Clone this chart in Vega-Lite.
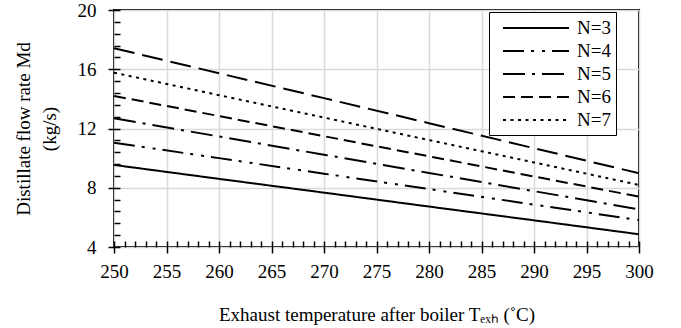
{
  "$schema": "https://vega.github.io/schema/vega-lite/v6.json",
  "width": 525,
  "height": 237,
  "autosize": "none",
  "padding": {"left": 114, "top": 10, "right": 42, "bottom": 81},
  "background": "white",
  "config": {
    "font": "Liberation Serif",
    "view": {"stroke": "black", "strokeWidth": 2},
    "axis": {"labelFont": "Liberation Serif", "titleFont": "Liberation Serif", "labelColor": "black", "titleColor": "black", "titleFontWeight": "normal", "labelFontSize": 19, "titleFontSize": 19, "domainColor": "black", "tickColor": "black", "gridColor": "#d9d9d9", "gridWidth": 1.5, "labelFlush": false, "labelOverlap": false}
  },
  "data": {"values": [
    {"T": 250, "M": 9.54, "N": "N=3"}, {"T": 260, "M": 8.60, "N": "N=3"}, {"T": 270, "M": 7.67, "N": "N=3"}, {"T": 280, "M": 6.73, "N": "N=3"}, {"T": 290, "M": 5.80, "N": "N=3"}, {"T": 300, "M": 4.86, "N": "N=3"},
    {"T": 250, "M": 11.04, "N": "N=4"}, {"T": 260, "M": 10.00, "N": "N=4"}, {"T": 270, "M": 8.95, "N": "N=4"}, {"T": 280, "M": 7.91, "N": "N=4"}, {"T": 290, "M": 6.86, "N": "N=4"}, {"T": 300, "M": 5.82, "N": "N=4"},
    {"T": 250, "M": 12.69, "N": "N=5"}, {"T": 260, "M": 11.46, "N": "N=5"}, {"T": 270, "M": 10.23, "N": "N=5"}, {"T": 280, "M": 9.00, "N": "N=5"}, {"T": 290, "M": 7.77, "N": "N=5"}, {"T": 300, "M": 6.54, "N": "N=5"},
    {"T": 250, "M": 14.20, "N": "N=6"}, {"T": 260, "M": 12.84, "N": "N=6"}, {"T": 270, "M": 11.48, "N": "N=6"}, {"T": 280, "M": 10.12, "N": "N=6"}, {"T": 290, "M": 8.76, "N": "N=6"}, {"T": 300, "M": 7.40, "N": "N=6"},
    {"T": 250, "M": 15.77, "N": "N=7"}, {"T": 260, "M": 14.25, "N": "N=7"}, {"T": 270, "M": 12.74, "N": "N=7"}, {"T": 280, "M": 11.22, "N": "N=7"}, {"T": 290, "M": 9.71, "N": "N=7"}, {"T": 300, "M": 8.19, "N": "N=7"},
    {"T": 250, "M": 17.42, "N": "N=8"}, {"T": 260, "M": 15.73, "N": "N=8"}, {"T": 270, "M": 14.05, "N": "N=8"}, {"T": 280, "M": 12.36, "N": "N=8"}, {"T": 290, "M": 10.67, "N": "N=8"}, {"T": 300, "M": 8.98, "N": "N=8"}
  ]},
  "mark": {"type": "line", "strokeWidth": 2, "color": "black", "strokeCap": "butt"},
  "encoding": {
    "x": {"field": "T", "type": "quantitative", "scale": {"domain": [250, 300], "nice": false},
      "axis": {"values": [250,251,252,253,254,255,256,257,258,259,260,261,262,263,264,265,266,267,268,269,270,271,272,273,274,275,276,277,278,279,280,281,282,283,284,285,286,287,288,289,290,291,292,293,294,295,296,297,298,299,300],
        "offset": -6, "domain": false,
        "labelExpr": "datum.value % 5 === 0 ? datum.label : ''",
        "tickSize": {"condition": {"test": "datum.value % 5 !== 0", "value": 6}, "value": 12},
        "gridOpacity": {"condition": {"test": "datum.value % 5 !== 0", "value": 0}, "value": 1},
        "tickWidth": 1.5, "labelPadding": 9, "grid": true, "title": "Exhaust temperature after boiler Tₑₓₕ  (˚C)", "titlePadding": 24}},
    "y": {"field": "M", "type": "quantitative", "scale": {"domain": [4, 20], "nice": false},
      "axis": {"values": [4,4.8,5.6,6.4,7.2,8,8.8,9.6,10.4,11.2,12,12.8,13.6,14.4,15.2,16,16.8,17.6,18.4,19.2,20],
        "offset": -6, "domain": false,
        "labelExpr": "abs(datum.value/4 - round(datum.value/4)) < 0.01 ? datum.label : ''",
        "tickSize": {"condition": {"test": "abs(datum.value/4 - round(datum.value/4)) > 0.01", "value": 6}, "value": 12},
        "gridOpacity": {"condition": {"test": "abs(datum.value/4 - round(datum.value/4)) > 0.01", "value": 0}, "value": 1},
        "tickWidth": 1.5, "labelPadding": 12, "grid": true, "title": ["Distillate flow rate Md", "(kg/s)"], "titlePadding": 18, "titleLineHeight": 26}},
    "strokeDash": {"field": "N", "type": "nominal",
      "scale": {"domain": ["N=3","N=4","N=5","N=6","N=7","N=8"], "range": [[1,0],[21,7,3,8,3,7],[22,7,3,7],[12,6],[3,4.5],[21,8]]},
      "legend": {"values": ["N=3","N=4","N=5","N=6","N=7"], "title": null, "orient": "none", "legendX": 375, "legendY": 2,
        "symbolType": "M-3.3,0H3.3", "symbolSize": 400, "symbolStrokeColor": "black", "symbolStrokeWidth": 2, "symbolOffset": 31,
        "labelOffset": 30, "labelFontSize": 19, "labelFont": "Liberation Serif", "labelColor": "black",
        "strokeColor": "black", "fillColor": "white", "padding": 5, "rowPadding": 2}}
  }
}
